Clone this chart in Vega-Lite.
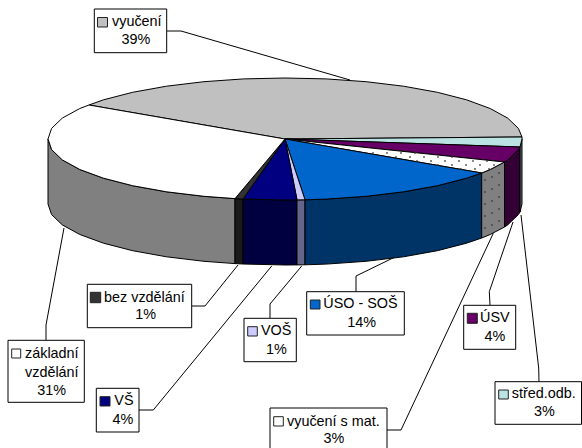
{"$schema":"https://vega.github.io/schema/vega-lite/v6.json","width":582,"height":448,"padding":0,"autosize":{"type":"none"},"background":"white","config":{"view":{"stroke":null}},
"datasets":{
"slices":[
{"part":"základní vzdělání bok","x":235,"y":198.6},{"part":"základní vzdělání bok","x":203.9,"y":196.3},{"part":"základní vzdělání bok","x":166.5,"y":191.8},{"part":"základní vzdělání bok","x":132.6,"y":185.7},{"part":"základní vzdělání bok","x":103.5,"y":178.2},{"part":"základní vzdělání bok","x":79.8,"y":169.5},{"part":"základní vzdělání bok","x":62.3,"y":159.9},{"part":"základní vzdělání bok","x":51.6,"y":149.6},{"part":"základní vzdělání bok","x":48,"y":139},{"part":"základní vzdělání bok","x":48,"y":204},{"part":"základní vzdělání bok","x":51.6,"y":214.6},{"part":"základní vzdělání bok","x":62.3,"y":224.9},{"part":"základní vzdělání bok","x":79.8,"y":234.5},{"part":"základní vzdělání bok","x":103.5,"y":243.2},{"part":"základní vzdělání bok","x":132.6,"y":250.7},{"part":"základní vzdělání bok","x":166.5,"y":256.8},{"part":"základní vzdělání bok","x":203.9,"y":261.3},{"part":"základní vzdělání bok","x":235,"y":263.6},{"part":"základní vzdělání bok","x":235,"y":198.6},
{"part":"bez vzdělání bok","x":243,"y":199},{"part":"bez vzdělání bok","x":235,"y":198.6},{"part":"bez vzdělání bok","x":235,"y":263.6},{"part":"bez vzdělání bok","x":243,"y":264},{"part":"bez vzdělání bok","x":243,"y":199},
{"part":"VŠ bok","x":297,"y":199.9},{"part":"VŠ bok","x":285,"y":200},{"part":"VŠ bok","x":243,"y":199},{"part":"VŠ bok","x":243,"y":264},{"part":"VŠ bok","x":285,"y":265},{"part":"VŠ bok","x":297,"y":264.9},{"part":"VŠ bok","x":297,"y":199.9},
{"part":"VOŠ bok","x":305,"y":199.8},{"part":"VOŠ bok","x":297,"y":199.9},{"part":"VOŠ bok","x":297,"y":264.9},{"part":"VOŠ bok","x":305,"y":264.8},{"part":"VOŠ bok","x":305,"y":199.8},
{"part":"ÚSO - SOŠ bok","x":481.7,"y":173},{"part":"ÚSO - SOŠ bok","x":466.5,"y":178.2},{"part":"ÚSO - SOŠ bok","x":437.4,"y":185.7},{"part":"ÚSO - SOŠ bok","x":403.5,"y":191.8},{"part":"ÚSO - SOŠ bok","x":366.1,"y":196.3},{"part":"ÚSO - SOŠ bok","x":326.2,"y":199.1},{"part":"ÚSO - SOŠ bok","x":305,"y":199.8},{"part":"ÚSO - SOŠ bok","x":305,"y":264.8},{"part":"ÚSO - SOŠ bok","x":326.2,"y":264.1},{"part":"ÚSO - SOŠ bok","x":366.1,"y":261.3},{"part":"ÚSO - SOŠ bok","x":403.5,"y":256.8},{"part":"ÚSO - SOŠ bok","x":437.4,"y":250.7},{"part":"ÚSO - SOŠ bok","x":466.5,"y":243.2},{"part":"ÚSO - SOŠ bok","x":481.7,"y":238},{"part":"ÚSO - SOŠ bok","x":481.7,"y":173},
{"part":"vyučení s mat. bok","x":504.5,"y":162},{"part":"vyučení s mat. bok","x":490.2,"y":169.5},{"part":"vyučení s mat. bok","x":481.7,"y":173},{"part":"vyučení s mat. bok","x":481.7,"y":238},{"part":"vyučení s mat. bok","x":490.2,"y":234.5},{"part":"vyučení s mat. bok","x":504.5,"y":227},{"part":"vyučení s mat. bok","x":504.5,"y":162},
{"part":"ÚSV bok","x":520,"y":147},{"part":"ÚSV bok","x":518.4,"y":149.6},{"part":"ÚSV bok","x":507.7,"y":159.9},{"part":"ÚSV bok","x":504.5,"y":162},{"part":"ÚSV bok","x":504.5,"y":227},{"part":"ÚSV bok","x":507.7,"y":224.9},{"part":"ÚSV bok","x":518.4,"y":214.6},{"part":"ÚSV bok","x":520,"y":212},{"part":"ÚSV bok","x":520,"y":147},
{"part":"střed.odb. bok","x":522,"y":139},{"part":"střed.odb. bok","x":520,"y":147},{"part":"střed.odb. bok","x":520,"y":212},{"part":"střed.odb. bok","x":522,"y":204},{"part":"střed.odb. bok","x":522,"y":139},
{"part":"vyučení","x":285,"y":139},{"part":"vyučení","x":89,"y":105},{"part":"vyučení","x":103.5,"y":99.8},{"part":"vyučení","x":132.6,"y":92.3},{"part":"vyučení","x":166.5,"y":86.2},{"part":"vyučení","x":203.9,"y":81.7},{"part":"vyučení","x":243.8,"y":78.9},{"part":"vyučení","x":285,"y":78},{"part":"vyučení","x":326.2,"y":78.9},{"part":"vyučení","x":366.1,"y":81.7},{"part":"vyučení","x":403.5,"y":86.2},{"part":"vyučení","x":437.4,"y":92.3},{"part":"vyučení","x":466.5,"y":99.8},{"part":"vyučení","x":490.2,"y":108.5},{"part":"vyučení","x":507.7,"y":118.1},{"part":"vyučení","x":518.4,"y":128.4},{"part":"vyučení","x":522,"y":137},{"part":"vyučení","x":285,"y":139},
{"part":"střed.odb.","x":285,"y":139},{"part":"střed.odb.","x":522,"y":137},{"part":"střed.odb.","x":522,"y":139},{"part":"střed.odb.","x":520,"y":147},{"part":"střed.odb.","x":285,"y":139},
{"part":"ÚSV","x":285,"y":139},{"part":"ÚSV","x":520,"y":147},{"part":"ÚSV","x":518.4,"y":149.6},{"part":"ÚSV","x":507.7,"y":159.9},{"part":"ÚSV","x":504.5,"y":162},{"part":"ÚSV","x":285,"y":139},
{"part":"vyučení s mat.","x":285,"y":139},{"part":"vyučení s mat.","x":504.5,"y":162},{"part":"vyučení s mat.","x":490.2,"y":169.5},{"part":"vyučení s mat.","x":481.7,"y":173},{"part":"vyučení s mat.","x":285,"y":139},
{"part":"ÚSO - SOŠ","x":285,"y":139},{"part":"ÚSO - SOŠ","x":481.7,"y":173},{"part":"ÚSO - SOŠ","x":466.5,"y":178.2},{"part":"ÚSO - SOŠ","x":437.4,"y":185.7},{"part":"ÚSO - SOŠ","x":403.5,"y":191.8},{"part":"ÚSO - SOŠ","x":366.1,"y":196.3},{"part":"ÚSO - SOŠ","x":326.2,"y":199.1},{"part":"ÚSO - SOŠ","x":305,"y":199.8},{"part":"ÚSO - SOŠ","x":285,"y":139},
{"part":"VOŠ","x":285,"y":139},{"part":"VOŠ","x":305,"y":199.8},{"part":"VOŠ","x":297,"y":199.9},{"part":"VOŠ","x":285,"y":139},
{"part":"VŠ","x":285,"y":139},{"part":"VŠ","x":297,"y":199.9},{"part":"VŠ","x":285,"y":200},{"part":"VŠ","x":243,"y":199},{"part":"VŠ","x":285,"y":139},
{"part":"bez vzdělání","x":285,"y":139},{"part":"bez vzdělání","x":243,"y":199},{"part":"bez vzdělání","x":235,"y":198.6},{"part":"bez vzdělání","x":285,"y":139},
{"part":"základní vzdělání","x":285,"y":139},{"part":"základní vzdělání","x":235,"y":198.6},{"part":"základní vzdělání","x":203.9,"y":196.3},{"part":"základní vzdělání","x":166.5,"y":191.8},{"part":"základní vzdělání","x":132.6,"y":185.7},{"part":"základní vzdělání","x":103.5,"y":178.2},{"part":"základní vzdělání","x":79.8,"y":169.5},{"part":"základní vzdělání","x":62.3,"y":159.9},{"part":"základní vzdělání","x":51.6,"y":149.6},{"part":"základní vzdělání","x":48,"y":139},{"part":"základní vzdělání","x":51.6,"y":128.4},{"part":"základní vzdělání","x":62.3,"y":118.1},{"part":"základní vzdělání","x":79.8,"y":108.5},{"part":"základní vzdělání","x":89,"y":105},{"part":"základní vzdělání","x":285,"y":139}
],
"dots":[
{"x":373,"y":153},{"x":387,"y":153},{"x":401,"y":153},{"x":415,"y":153},{"x":396,"y":157},{"x":410,"y":157},{"x":424,"y":157},{"x":438,"y":157},{"x":452,"y":157},{"x":417,"y":161},{"x":431,"y":161},{"x":445,"y":161},{"x":459,"y":161},{"x":473,"y":161},{"x":487,"y":161},{"x":438,"y":165},{"x":452,"y":165},{"x":466,"y":165},{"x":480,"y":165},{"x":494,"y":165},{"x":461,"y":169},{"x":475,"y":169},{"x":489,"y":169},
{"x":485,"y":180},{"x":499,"y":173},{"x":492,"y":177},{"x":485,"y":192},{"x":499,"y":185},{"x":492,"y":189},{"x":485,"y":204},{"x":499,"y":197},{"x":492,"y":201},{"x":485,"y":216},{"x":499,"y":209},{"x":492,"y":213},{"x":485,"y":228},{"x":499,"y":221},{"x":492,"y":225}
],
"leaders":[
{"label":"vyučení","x":167,"y":31},{"label":"vyučení","x":181,"y":31},{"label":"vyučení","x":350,"y":80},
{"label":"bez vzdělání","x":192,"y":306},{"label":"bez vzdělání","x":205,"y":306},{"label":"bez vzdělání","x":238,"y":265},
{"label":"základní vzdělání","x":46,"y":340},{"label":"základní vzdělání","x":46,"y":325},{"label":"základní vzdělání","x":64,"y":228},
{"label":"VŠ","x":139,"y":410},{"label":"VŠ","x":153.3,"y":410},{"label":"VŠ","x":271.7,"y":266},
{"label":"VOŠ","x":270,"y":318},{"label":"VOŠ","x":270,"y":304},{"label":"VOŠ","x":301.7,"y":266},
{"label":"ÚSO - SOŠ","x":356,"y":292},{"label":"ÚSO - SOŠ","x":356,"y":276},{"label":"ÚSO - SOŠ","x":395,"y":257},
{"label":"ÚSV","x":490,"y":305},{"label":"ÚSV","x":489.3,"y":291.7},{"label":"ÚSV","x":513,"y":222},
{"label":"střed.odb.","x":539,"y":382},{"label":"střed.odb.","x":538.7,"y":368},{"label":"střed.odb.","x":521,"y":215},
{"label":"vyučení s mat.","x":387,"y":430},{"label":"vyučení s mat.","x":401,"y":430},{"label":"vyučení s mat.","x":493.3,"y":233.3}
],
"boxes":[
{"part":"vyučení","x":94.3,"x2":166.7,"y":9,"y2":52.7,"kx":97.5,"kx2":107.5,"ky":17.5,"ky2":27},
{"part":"bez vzdělání","x":87.3,"x2":191.7,"y":284.3,"y2":327.7,"kx":90.3,"kx2":100.7,"ky":292.3,"ky2":302.7},
{"part":"základní vzdělání","x":8,"x2":84.3,"y":340.3,"y2":402.3,"kx":11.7,"kx2":20.7,"ky":349,"ky2":358},
{"part":"VŠ","x":96.3,"x2":139,"y":388.3,"y2":432,"kx":100,"kx2":110,"ky":396.7,"ky2":406},
{"part":"VOŠ","x":244,"x2":296.3,"y":318.3,"y2":361.7,"kx":247.7,"kx2":257.3,"ky":326.7,"ky2":336},
{"part":"ÚSO - SOŠ","x":306.7,"x2":404.3,"y":291.7,"y2":335,"kx":310.3,"kx2":320,"ky":300,"ky2":309},
{"part":"ÚSV","x":463.7,"x2":515.7,"y":305.3,"y2":349.3,"kx":467.3,"kx2":477.3,"ky":313.3,"ky2":323.3},
{"part":"střed.odb.","x":495,"x2":581.5,"y":381.7,"y2":424.3,"kx":498.7,"kx2":508.3,"ky":390,"ky2":399},
{"part":"vyučení s mat.","x":270,"x2":387,"y":408,"y2":453,"kx":273.7,"kx2":283.3,"ky":416.7,"ky2":426}
],
"names":[
{"text":"vyučení","x":112,"y":22},{"text":"bez vzdělání","x":104,"y":297.7},{"text":"základní","x":25,"y":354},{"text":"vzdělání","x":25,"y":372.7},{"text":"VŠ","x":114.3,"y":401},{"text":"VOŠ","x":261,"y":330.7},{"text":"ÚSO - SOŠ","x":323.3,"y":304},{"text":"ÚSV","x":480,"y":318.3},{"text":"střed.odb.","x":511.7,"y":394.3},{"text":"vyučení s mat.","x":287,"y":421.7}
],
"shares":[
{"text":"39%","x":136,"y":40},{"text":"1%","x":145.7,"y":315},{"text":"31%","x":51.7,"y":390.7},{"text":"4%","x":123,"y":420},{"text":"1%","x":276.3,"y":350},{"text":"14%","x":361.7,"y":323.3},{"text":"4%","x":495,"y":337.3},{"text":"3%","x":544.3,"y":412.3},{"text":"3%","x":334,"y":439}
]},
"encoding":{
"x":{"field":"x","type":"quantitative","axis":null,"scale":{"domain":[0,582],"nice":false,"zero":false}},
"y":{"field":"y","type":"quantitative","axis":null,"scale":{"domain":[448,0],"nice":false,"zero":false}}
},
"layer":[
{"data":{"name":"leaders"},"transform":[{"window":[{"op":"row_number","as":"i"}]}],"mark":{"type":"line","stroke":"black","strokeWidth":1},"encoding":{"detail":{"field":"label"},"order":{"field":"i","type":"quantitative"}}},
{"data":{"name":"slices"},"transform":[{"window":[{"op":"row_number","as":"i"}]}],"mark":{"type":"line","filled":true,"stroke":"black","strokeWidth":1,"strokeJoin":"round"},"encoding":{"order":{"field":"i","type":"quantitative"},"color":{"field":"part","type":"nominal","legend":null,"scale":{
"domain":["vyučení","střed.odb.","ÚSV","vyučení s mat.","ÚSO - SOŠ","VOŠ","VŠ","bez vzdělání","základní vzdělání","střed.odb. bok","ÚSV bok","vyučení s mat. bok","ÚSO - SOŠ bok","VOŠ bok","VŠ bok","bez vzdělání bok","základní vzdělání bok"],
"range":["#C0C0C0","#BCE3E3","#660066","#FFFFFF","#0066CC","#CCCCFF","#000080","#333333","#FFFFFF","#566F6F","#330033","#808080","#003366","#66668C","#000040","#1A1A1A","#808080"]}}}},
{"data":{"name":"dots"},"mark":{"type":"point","shape":"square","filled":true,"color":"#3A3A3A","size":2.5,"opacity":1}},
{"data":{"name":"boxes"},"mark":{"type":"rect","fill":"white","stroke":"black","strokeWidth":1,"clip":true},"encoding":{"x2":{"field":"x2"},"y2":{"field":"y2"}}},
{"data":{"name":"boxes"},"mark":{"type":"rect","stroke":"#222222","strokeWidth":1},"encoding":{"x":{"field":"kx","type":"quantitative"},"x2":{"field":"kx2"},"y":{"field":"ky","type":"quantitative"},"y2":{"field":"ky2"},"color":{"field":"part","type":"nominal","legend":null}}},
{"data":{"name":"names"},"mark":{"type":"text","align":"left","baseline":"middle","font":"Liberation Sans","fontSize":14.4,"color":"black"},"encoding":{"text":{"field":"text"}}},
{"data":{"name":"shares"},"mark":{"type":"text","align":"center","baseline":"middle","font":"Liberation Sans","fontSize":14.4,"color":"black"},"encoding":{"text":{"field":"text"}}}
]}
